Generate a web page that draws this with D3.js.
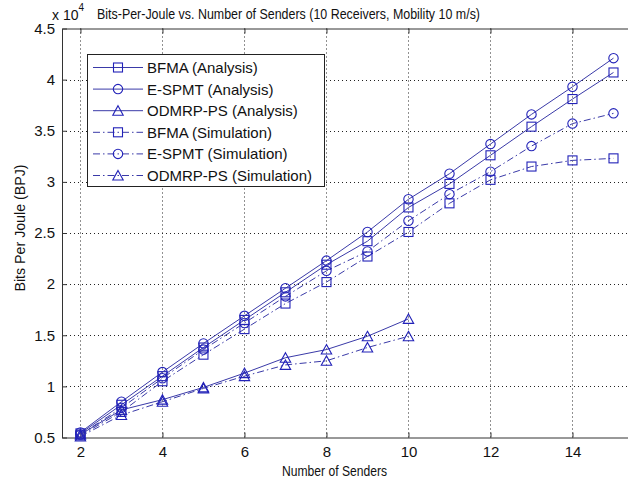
<!DOCTYPE html>
<html>
<head>
<meta charset="utf-8">
<script src="https://cdn.jsdelivr.net/npm/d3@7"></script>
<style>
  body { margin: 0; background: #fff; }
  svg text { font-family: 'Liberation Sans', Arial, sans-serif; fill: #111; }
</style>
</head>
<body>
<div id="chart"></div>
<script>
// values are in units of 10^4 bits per joule
const senders = [2, 3, 4, 5, 6, 7, 8, 9, 10, 11, 12, 13, 14, 15];
const odmrpSenders = [2, 3, 4, 5, 6, 7, 8, 9, 10];

const bfmaAnalysis = [0.54, 0.82, 1.10, 1.38, 1.65, 1.92, 2.19, 2.42, 2.75, 2.98, 3.26, 3.54, 3.81, 4.07];
const espmtAnalysis = [0.55, 0.85, 1.14, 1.42, 1.69, 1.96, 2.23, 2.51, 2.83, 3.08, 3.37, 3.66, 3.93, 4.21];
const odmrpAnalysis = [0.53, 0.77, 0.87, 0.99, 1.13, 1.28, 1.36, 1.49, 1.66];
const bfmaSimulation = [0.52, 0.75, 1.05, 1.31, 1.56, 1.81, 2.02, 2.27, 2.51, 2.79, 3.02, 3.15, 3.21, 3.23];
const espmtSimulation = [0.53, 0.79, 1.08, 1.36, 1.62, 1.88, 2.13, 2.32, 2.62, 2.88, 3.10, 3.35, 3.57, 3.67];
const odmrpSimulation = [0.51, 0.72, 0.85, 0.98, 1.10, 1.21, 1.25, 1.38, 1.49];

const xTicks = [2, 4, 6, 8, 10, 12, 14];
const yTicks = [0.5, 1, 1.5, 2, 2.5, 3, 3.5, 4, 4.5];

const series = [
  { name: 'BFMA (Analysis)', xs: senders, ys: bfmaAnalysis, marker: 'square', dashed: false },
  { name: 'E-SPMT (Analysis)', xs: senders, ys: espmtAnalysis, marker: 'circle', dashed: false },
  { name: 'ODMRP-PS (Analysis)', xs: odmrpSenders, ys: odmrpAnalysis, marker: 'triangle', dashed: false },
  { name: 'BFMA (Simulation)', xs: senders, ys: bfmaSimulation, marker: 'square', dashed: true },
  { name: 'E-SPMT (Simulation)', xs: senders, ys: espmtSimulation, marker: 'circle', dashed: true },
  { name: 'ODMRP-PS (Simulation)', xs: odmrpSenders, ys: odmrpSimulation, marker: 'triangle', dashed: true },
];

const width = 628;
const height = 482;
const lineColor = '#3a3aa8';
const markerColor = '#2222b8';
const dashDot = '7,3,1.5,3';

const svg = d3.select('#chart')
  .append('svg')
  .attr('width', width)
  .attr('height', height);

const xScale = d3.scaleLinear().domain([1.55, 15.5]).range([62, 634]);
const yScale = d3.scaleLinear().domain([0.5, 4.5]).range([437.5, 28.5]);

const plotLeft = xScale.range()[0];
const plotRight = xScale.range()[1];
const plotTop = yScale.range()[1];
const plotBottom = yScale.range()[0];

// dotted grid
const grid = svg.append('g').attr('class', 'grid')
  .attr('stroke', '#222')
  .attr('stroke-width', 1)
  .attr('stroke-dasharray', '1,3');

grid.selectAll('line.v')
  .data(xTicks)
  .join('line')
  .attr('class', 'v')
  .attr('x1', (d) => Math.round(xScale(d)) + 0.5)
  .attr('x2', (d) => Math.round(xScale(d)) + 0.5)
  .attr('y1', plotTop)
  .attr('y2', plotBottom);

grid.selectAll('line.h')
  .data(yTicks.slice(1, -1))
  .join('line')
  .attr('class', 'h')
  .attr('x1', plotLeft)
  .attr('x2', plotRight)
  .attr('y1', (d) => Math.round(yScale(d)) + 0.5)
  .attr('y2', (d) => Math.round(yScale(d)) + 0.5);

// axes, MATLAB style ticks pointing inward
const xAxis = d3.axisBottom(xScale).tickValues(xTicks).tickSizeInner(-5).tickSizeOuter(0).tickPadding(9);
const xAxisTop = d3.axisTop(xScale).tickValues(xTicks).tickSizeInner(-5).tickSizeOuter(0).tickFormat('');
const yAxis = d3.axisLeft(yScale).tickValues(yTicks).tickSizeInner(-5).tickSizeOuter(0).tickPadding(7)
  .tickFormat((d) => String(d));

const gx = svg.append('g').attr('transform', `translate(0,${plotBottom})`).call(xAxis);
const gxTop = svg.append('g').attr('transform', `translate(0,${plotTop})`).call(xAxisTop);
const gy = svg.append('g').attr('transform', `translate(${plotLeft},0)`).call(yAxis);

[gx, gxTop, gy].forEach((g) => {
  g.select('.domain').attr('stroke', '#333');
  g.selectAll('.tick line').attr('stroke', '#333');
  g.selectAll('.tick text')
    .style('font-family', "'Liberation Sans', Arial, sans-serif")
    .style('font-size', '15px')
    .attr('fill', '#111');
});
gx.selectAll('.tick text').attr('dy', '0.71em');

// series
const lineGen = d3.line()
  .x((d) => xScale(d[0]))
  .y((d) => yScale(d[1]));

function drawMarker(g, type, cx, cy) {
  if (type === 'square') {
    g.append('rect')
      .attr('x', cx - 4.5).attr('y', cy - 4.5)
      .attr('width', 9).attr('height', 9);
  } else if (type === 'circle') {
    g.append('circle').attr('cx', cx).attr('cy', cy).attr('r', 4.7);
  } else {
    g.append('path')
      .attr('d', `M${cx},${cy - 5}L${cx + 5.2},${cy + 4.5}L${cx - 5.2},${cy + 4.5}Z`);
  }
}

const plot = svg.append('g').attr('class', 'series');

series.forEach((s) => {
  const pts = s.xs.map((x, i) => [x, s.ys[i]]);
  plot.append('path')
    .attr('d', lineGen(pts))
    .attr('fill', 'none')
    .attr('stroke', lineColor)
    .attr('stroke-width', 1)
    .attr('stroke-dasharray', s.dashed ? dashDot : null);

  const marks = plot.append('g')
    .attr('fill', 'none')
    .attr('stroke', markerColor)
    .attr('stroke-width', 1.1);
  pts.forEach((p) => drawMarker(marks, s.marker, xScale(p[0]), yScale(p[1])));
});

// legend
const legend = svg.append('g').attr('class', 'legend');
legend.append('rect')
  .attr('x', 87.5).attr('y', 54.5)
  .attr('width', 237).attr('height', 132)
  .attr('fill', '#fff')
  .attr('stroke', '#222');

const rowY = d3.scaleLinear().domain([0, 5]).range([67.5, 175.5]);

series.forEach((s, i) => {
  const y = rowY(i);
  legend.append('line')
    .attr('x1', 93).attr('x2', 143)
    .attr('y1', y).attr('y2', y)
    .attr('stroke', lineColor)
    .attr('stroke-width', 1)
    .attr('stroke-dasharray', s.dashed ? dashDot : null);
  const m = legend.append('g').attr('fill', 'none').attr('stroke', markerColor).attr('stroke-width', 1.1);
  drawMarker(m, s.marker, 118, y);
  legend.append('text')
    .attr('x', 147)
    .attr('y', y)
    .attr('dy', '0.36em')
    .style('font-size', '15px')
    .text(s.name);
});

// title and labels
svg.append('text')
  .attr('x', 97)
  .attr('y', 18.5)
  .attr('textLength', 383)
  .attr('lengthAdjust', 'spacingAndGlyphs')
  .style('font-size', '15px')
  .text('Bits-Per-Joule vs. Number of Senders (10 Receivers, Mobility 10 m/s)');

const expo = svg.append('text')
  .attr('x', 52)
  .attr('y', 20)
  .style('font-size', '14px');
expo.append('tspan').text('x 10');
expo.append('tspan')
  .attr('dy', -9)
  .style('font-size', '10px')
  .text('4');

svg.append('text')
  .attr('x', 282)
  .attr('y', 476)
  .attr('textLength', 105)
  .attr('lengthAdjust', 'spacingAndGlyphs')
  .style('font-size', '15px')
  .text('Number of Senders');

svg.append('text')
  .attr('transform', 'translate(25,228) rotate(-90)')
  .attr('text-anchor', 'middle')
  .attr('textLength', 127)
  .attr('lengthAdjust', 'spacingAndGlyphs')
  .style('font-size', '15px')
  .text('Bits Per Joule (BPJ)');
</script>
</body>
</html>
